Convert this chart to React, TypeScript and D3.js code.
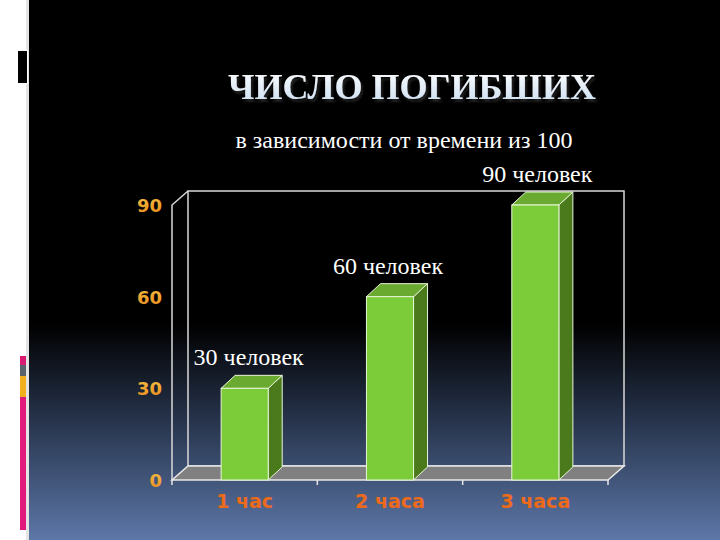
import * as d3 from "d3";
import { useEffect } from "react";

// data
const categories = ["1 час", "2 часа", "3 часа"];
const deaths = [30, 60, 90];
const valueLabels = ["30 человек", "60 человек", "90 человек"];
const yTicks = [0, 30, 60, 90];

const W = 720;
const H = 540;

// floor / wall geometry
const left = 172;
const right = 608;
const bottom = 480;
const top = 205;
const wallDx = 16; // depth offset of the back wall
const wallDy = -14;
const barDx = 14; // depth of the bars
const barDy = -13;

export default function App() {
  useEffect(() => {
    document.body.style.margin = "0";
  }, []);

  const x = d3
    .scaleBand<string>()
    .domain(categories)
    .range([left, right])
    .paddingInner(0.676)
    .paddingOuter(0.338);
  const y = d3.scaleLinear().domain([0, 90]).range([bottom, top]);

  const poly = (pts: [number, number][]) => "M" + pts.map((p) => p.join(",")).join("L") + "Z";

  const serif = "Liberation Serif";
  const sans = "DejaVu Sans";

  return (
    <svg width={W} height={H} style={{ display: "block" }}>
      <defs>
        <linearGradient id="bg" x1="0" y1="0" x2="0" y2="1">
          <stop offset="0" stopColor="#000" />
          <stop offset="0.6" stopColor="#000" />
          <stop offset="0.78" stopColor="#27344c" />
          <stop offset="1" stopColor="#5d77a8" />
        </linearGradient>
        <linearGradient id="title" x1="0" y1="0" x2="0" y2="1">
          <stop offset="0" stopColor="#ffffff" />
          <stop offset="1" stopColor="#c8dcf0" />
        </linearGradient>
        <linearGradient id="tick" x1="0" y1="0" x2="0" y2="1">
          <stop offset="0" stopColor="#f6c040" />
          <stop offset="1" stopColor="#e88a20" />
        </linearGradient>
        <filter id="shadow" x="-10%" y="-30%" width="120%" height="160%">
          <feDropShadow dx="2" dy="3" stdDeviation="1" floodColor="#202020" floodOpacity="1" />
        </filter>
      </defs>

      {/* slide background */}
      <rect x={0} y={0} width={W} height={H} fill="#fff" />
      <rect x={29} y={0} width={W - 29} height={H} fill="url(#bg)" />
      <rect x={26} y={0} width={3} height={H} fill="#e4e4e4" />

      {/* left decorations */}
      <rect x={17.5} y={50.5} width={10} height={33} fill="#000" stroke="#fff" strokeWidth={1} />
      <rect x={20} y={356} width={6} height={9} fill="#d81b72" />
      <rect x={20} y={365} width={6} height={11} fill="#5a626c" />
      <rect x={20} y={376} width={6} height={21} fill="#f2b01e" />
      <rect x={20} y={397} width={6} height={133} fill="#e01a7c" />

      {/* title */}
      <text x={412} y={99} textAnchor="middle" style={{ fontFamily: serif }} fontWeight="bold" fontSize={35}
        textLength={368} lengthAdjust="spacingAndGlyphs" fill="url(#title)" filter="url(#shadow)">
        ЧИСЛО ПОГИБШИХ
      </text>
      <text x={404} y={148} textAnchor="middle" style={{ fontFamily: serif }} fontSize={24} fill="#fff">
        в зависимости от времени из 100
      </text>

      {/* back wall and left wall */}
      <g fill="none" stroke="#d9d9d9" strokeWidth={1.5}>
        <rect x={left + wallDx} y={top + wallDy} width={right - left} height={bottom - top} />
        <path d={`M${left},${bottom}L${left},${top}L${left + wallDx},${top + wallDy}`} />
      </g>

      {/* floor */}
      <path
        d={poly([
          [left, bottom],
          [right, bottom],
          [right + wallDx, bottom + wallDy],
          [left + wallDx, bottom + wallDy],
        ])}
        fill="#808080"
        stroke="#e8e8e8"
        strokeWidth={1.5}
      />
      <g stroke="#e8e8e8" strokeWidth={1.5}>
        {[left, ...categories.slice(1).map((c) => x(c)! - x.step() * 0.338), right].map((tx, i) => (
          <line key={i} x1={tx} x2={tx} y1={bottom} y2={bottom + 5} />
        ))}
      </g>

      {/* bars */}
      {categories.map((c, i) => {
        const x0 = x(c)!;
        const x1 = x0 + x.bandwidth();
        const yt = y(deaths[i]);
        return (
          <g key={c} stroke="#e8f5d8" strokeWidth={1}>
            <path
              d={poly([[x1, bottom], [x1, yt], [x1 + barDx, yt + barDy], [x1 + barDx, bottom + barDy]])}
              fill="#4a7a1c"
            />
            <path
              d={poly([[x0, yt], [x1, yt], [x1 + barDx, yt + barDy], [x0 + barDx, yt + barDy]])}
              fill="#6aaa30"
            />
            <rect x={x0} y={yt} width={x1 - x0} height={bottom - yt} fill="#7ccc3a" />
          </g>
        );
      })}

      {/* value labels */}
      {categories.map((c, i) => (
        <text key={c} x={x(c)! + x.bandwidth() / 2 + [4, -2, 2][i]} y={y(deaths[i]) - 23}
          textAnchor="middle" style={{ fontFamily: serif }} fontSize={24} fill="#fff">
          {valueLabels[i]}
        </text>
      ))}

      {/* y ticks */}
      {yTicks.map((t) => (
        <text key={t} x={162} y={y(t) + 7} textAnchor="end" style={{ fontFamily: sans }} fontWeight="bold"
          fontSize={18} fill="url(#tick)">
          {t}
        </text>
      ))}

      {/* category labels */}
      {categories.map((c) => (
        <text key={c} x={x(c)! + x.bandwidth() / 2} y={508} textAnchor="middle" style={{ fontFamily: sans }}
          fontWeight="bold" fontSize={19} fill="#ec6a1c">
          {c}
        </text>
      ))}
    </svg>
  );
}
